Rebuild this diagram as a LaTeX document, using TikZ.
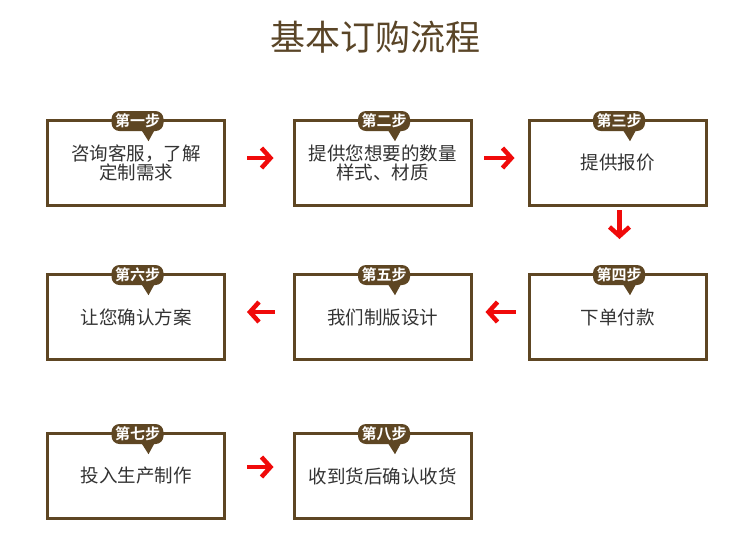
\documentclass[tikz,border=0pt]{standalone}
\usepackage{fontspec}
\setmainfont{Noto Sans CJK SC}[BoldFont={* Bold}]
\usetikzlibrary{arrows.meta}
\definecolor{brn}{HTML}{5E4623}
\definecolor{ttl}{HTML}{5A4527}
\definecolor{txt}{HTML}{333333}
\definecolor{arr}{HTML}{F00A0A}
\tikzset{
  stepbox/.style={draw=brn, line width=3pt, fill=white, minimum width=177pt, minimum height=85pt,
    align=center, font=\fontsize{18.5pt}{19.5pt}\selectfont, text=txt, inner sep=0pt},
  badge/.style={fill=brn, rounded corners=8pt, minimum width=52pt, minimum height=20pt, inner sep=0pt,
    text=white, font=\fontsize{15pt}{16pt}\selectfont\bfseries},
  redarrow/.style={draw=arr, line width=4.5pt, -{Straight Barb[length=9pt,width=20pt,line width=4.5pt]}}
}
\newcommand{\stepnode}[5]{%
  \node[stepbox] (#1) at (#2,#3) {#5};
  \node[badge] (#1b) at ([xshift=1.5pt,yshift=-2pt]#1.north) {#4};
  \fill[brn] ([xshift=4pt,yshift=1pt]#1b.south) -- ([xshift=17pt,yshift=1pt]#1b.south) -- ([xshift=11pt,yshift=-10pt]#1b.south) -- cycle;
}
\begin{document}
\begin{tikzpicture}[x=1pt,y=-1pt]
\path[use as bounding box, fill=white] (0,0) rectangle (750,558);
\node[text=ttl, font=\fontsize{35pt}{40pt}\selectfont] (title) at (375,37) {基本订购流程};
\stepnode{s1}{136}{163}{第一步}{咨询客服，了解\\定制需求}
\stepnode{s2}{382.5}{163}{第二步}{提供您想要的数量\\样式、材质}
\stepnode{s3}{617.5}{163}{第三步}{提供报价}
\stepnode{s4}{617.5}{317}{第四步}{下单付款}
\stepnode{s5}{382.5}{317}{第五步}{我们制版设计}
\stepnode{s6}{136}{317}{第六步}{让您确认方案}
\stepnode{s7}{136}{476}{第七步}{投入生产制作}
\stepnode{s8}{382.5}{476}{第八步}{收到货后确认收货}
\draw[redarrow, shorten <=21pt, shorten >=19pt] ([yshift=5pt]s1.east) -- ([yshift=5pt]s2.west);
\draw[redarrow, shorten <=11.5pt, shorten >=13pt] ([yshift=5pt]s2.east) -- ([yshift=5pt]s3.west);
\draw[redarrow, shorten <=3pt, shorten >=34pt] ([xshift=2pt]s3.south) -- ([xshift=2pt]s4.north);
\draw[redarrow, shorten <=12pt, shorten >=13pt] ([yshift=5pt]s4.west) -- ([yshift=5pt]s5.east);
\draw[redarrow, shorten <=18pt, shorten >=21pt] ([yshift=5pt]s5.west) -- ([yshift=5pt]s6.east);
\draw[redarrow, shorten <=21pt, shorten >=19pt] ([yshift=9pt]s7.east) -- ([yshift=9pt]s8.west);
\end{tikzpicture}
\end{document}
